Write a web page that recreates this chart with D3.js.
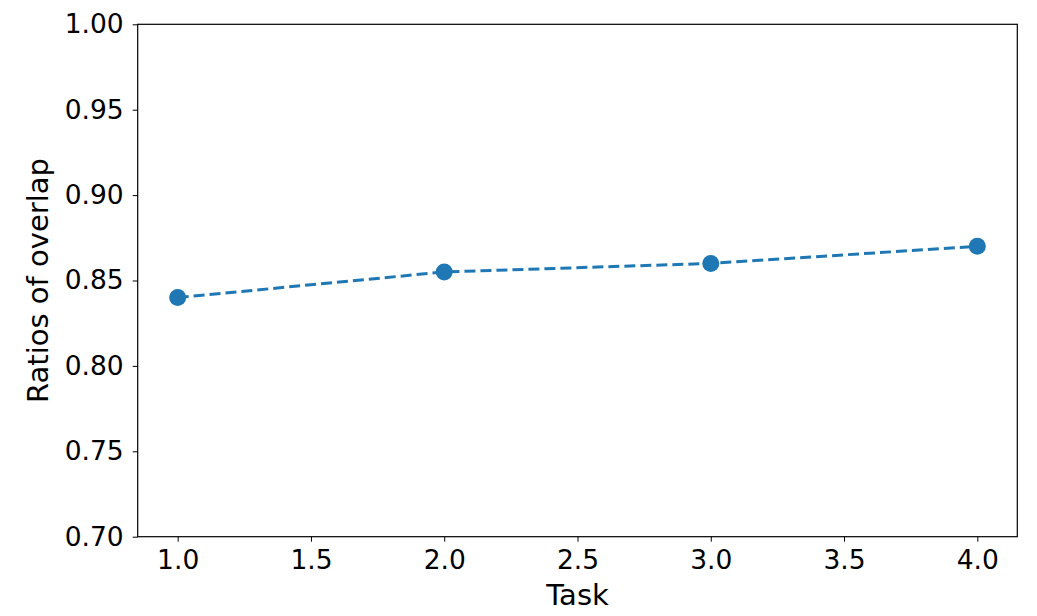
<!DOCTYPE html>
<html>
<head>
<meta charset="utf-8">
<script src="https://cdn.jsdelivr.net/npm/d3@7"></script>
<style>
  html, body { margin: 0; padding: 0; background: white; }
  svg { display: block; font-family: 'DejaVu Sans', sans-serif; }
</style>
</head>
<body>
<div id="chart"></div>
<script>
const tasks = [1, 2, 3, 4]
const overlap = [0.84, 0.855, 0.86, 0.87]
const xTicks = [1.0, 1.5, 2.0, 2.5, 3.0, 3.5, 4.0]
const yTicks = [0.70, 0.75, 0.80, 0.85, 0.90, 0.95, 1.00]

const width = 1037
const height = 616
const marginTop = 24.3
const marginRight = 19.7
const marginBottom = 79.3
const marginLeft = 137.7
const color = '#1f77b4'

const x = d3.scaleLinear([0.85, 4.15], [marginLeft, width - marginRight])
const y = d3.scaleLinear([0.70, 1.00], [height - marginBottom, marginTop])

const svg = d3.create('svg')
  .attr('width', width)
  .attr('height', height)
  .attr('viewBox', [0, 0, width, height])

const xAxis = d3.axisBottom(x).tickValues(xTicks).tickFormat(d3.format('.1f')).tickSize(5).tickPadding(8).tickSizeOuter(0)
const yAxis = d3.axisLeft(y).tickValues(yTicks).tickFormat(d3.format('.2f')).tickSize(5).tickPadding(9).tickSizeOuter(0)

svg.append('g')
  .attr('transform', `translate(0, ${height - marginBottom})`)
  .call(xAxis)
  .attr('font-family', 'DejaVu Sans, sans-serif')
  .attr('font-size', 26.5)
  .call(g => g.select('.domain').remove())
  .call(g => g.selectAll('.tick line').attr('stroke', '#000').attr('stroke-width', 1))
  .call(g => g.selectAll('.tick text').attr('fill', '#000'))

svg.append('g')
  .attr('transform', `translate(${marginLeft}, 0)`)
  .call(yAxis)
  .attr('font-family', 'DejaVu Sans, sans-serif')
  .attr('font-size', 26.5)
  .call(g => g.select('.domain').remove())
  .call(g => g.selectAll('.tick line').attr('stroke', '#000').attr('stroke-width', 1))
  .call(g => g.selectAll('.tick text').attr('fill', '#000'))

// frame
svg.append('rect')
  .attr('x', marginLeft)
  .attr('y', marginTop)
  .attr('width', width - marginLeft - marginRight)
  .attr('height', height - marginTop - marginBottom)
  .attr('fill', 'none')
  .attr('stroke', '#000')
  .attr('stroke-width', 1.2)

const line = d3.line()
  .x((d, i) => x(tasks[i]))
  .y(d => y(d))

svg.append('path')
  .attr('fill', 'none')
  .attr('stroke', color)
  .attr('stroke-width', 3)
  .attr('stroke-dasharray', '11, 5')
  .attr('d', line(overlap))

svg.append('g')
  .selectAll('circle')
  .data(overlap)
  .join('circle')
  .attr('cx', (d, i) => x(tasks[i]))
  .attr('cy', d => y(d))
  .attr('r', 8.5)
  .attr('fill', color)

svg.append('text')
  .attr('x', (marginLeft + width - marginRight) / 2)
  .attr('y', 605)
  .attr('text-anchor', 'middle')
  .attr('font-size', 29)
  .text('Task')

svg.append('text')
  .attr('transform', `translate(48, ${(marginTop + height - marginBottom) / 2}) rotate(-90)`)
  .attr('text-anchor', 'middle')
  .attr('font-size', 29)
  .text('Ratios of overlap')

d3.select('#chart').append(() => svg.node())
</script>
</body>
</html>
